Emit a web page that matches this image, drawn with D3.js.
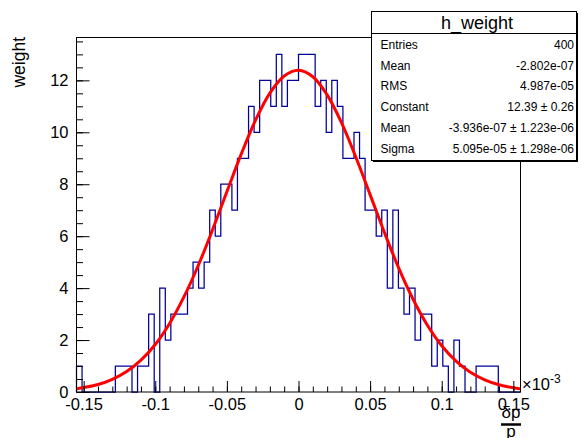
<!DOCTYPE html>
<html><head><meta charset="utf-8">
<script src="https://cdn.jsdelivr.net/npm/d3@7"></script>
<style>
body{margin:0;background:#fff}
svg{display:block}
text{font-family:"Liberation Sans",Arial,Helvetica,sans-serif;fill:#000}
</style>
</head><body>
<svg id="chart" width="581" height="438"></svg>
<script>
// ---- data ----
const histRange = [-0.155, 0.155];          // x axis range (×10^-3)
const binCounts = [
  1,0,0,0,0,0,0,1,1,1, 0,1,1,3,0,4,2,3,3,3,
  4,5,4,5,7,6,8,8,7,9, 9,11,10,12,12,11,13,11,12,12,
  13,13,13,11,12,10,12,11,9,9, 10,9,7,7,6,7,4,7,4,3,
  4,2,3,3,1,2,1,0,2,1, 0,0,1,1,1,1,0,0,0,0
];
const fitX = [-0.155,-0.15,-0.14,-0.13,-0.12,-0.11,-0.10,-0.09,-0.08,-0.07,-0.06,-0.05,-0.04,-0.03,-0.02,-0.01,
  0,0.01,0.02,0.03,0.04,0.05,0.06,0.07,0.08,0.09,0.10,0.11,0.12,0.13,0.14,0.15,0.155];
const fitY = [0.12,0.17,0.29,0.49,0.79,1.23,1.83,2.64,3.66,4.87,6.25,7.71,9.16,10.47,11.51,12.17,
  12.39,12.14,11.44,10.37,9.05,7.60,6.14,4.77,3.57,2.57,1.78,1.19,0.76,0.47,0.28,0.16,0.12];
const xTicks = [-0.15,-0.1,-0.05,0,0.05,0.1,0.15];
const xTickLabels = ["-0.15","-0.1","-0.05","0","0.05","0.1","0.15"];
const yTicks = [0,2,4,6,8,10,12];
const yMax = 13.65;
const statsTitle = "h_weight";
const statsLabels = ["Entries","Mean","RMS","Constant","Mean","Sigma"];
const statsValues = ["400","-2.802e-07","4.987e-05","12.39 \u00b1 0.26","-3.936e-07 \u00b1 1.223e-06","5.095e-05 \u00b1 1.298e-06"];

// ---- layout ----
const L = 76.5, R = 520.5, T = 37.5, B = 392;
const FS = 16.5;
const svg = d3.select("#chart");
const x = d3.scaleLinear().domain(histRange).range([L, R]);
const y = d3.scaleLinear().domain([0, yMax]).range([B, T]);

// histogram outline
const nb = binCounts.length;
const bw = (histRange[1]-histRange[0]) / nb;
const pts = [[histRange[0], 0]];
binCounts.forEach((c, i) => {
  const x0 = histRange[0] + i*bw;
  pts.push([x0, c], [x0 + bw, c]);
});
pts.push([histRange[1], 0]);
svg.append("path")
  .attr("d", d3.line().x(d => x(d[0])).y(d => y(d[1]))(pts))
  .attr("fill", "none").attr("stroke", "#000099").attr("stroke-width", 1.25);

// fit curve
svg.append("path")
  .attr("d", d3.line().x((d,i) => x(fitX[i])).y(d => y(d)).curve(d3.curveCatmullRom)(fitY))
  .attr("fill", "none").attr("stroke", "#ff0000").attr("stroke-width", 3);

// frame
svg.append("rect").attr("x", L).attr("y", T).attr("width", R-L).attr("height", B-T)
  .attr("fill", "none").attr("stroke", "#000").attr("stroke-width", 1);

// x axis
const gx = svg.append("g").attr("transform", `translate(0,${B})`);
gx.call(d3.axisBottom(x).tickValues(d3.range(-15, 16, 1).map(v => v/100)).tickSize(-5.5).tickFormat(""))
  .call(g => g.select(".domain").remove());
gx.append("g").call(d3.axisBottom(x).tickValues(xTicks).tickSize(-11).tickPadding(6)
    .tickFormat((d,i) => xTickLabels[i]))
  .call(g => g.select(".domain").remove())
  .call(g => g.selectAll("text").attr("font-size", FS).attr("dy", "0.71em").attr("y", 6));
gx.selectAll("line").attr("stroke", "#000");

// y axis
const gy = svg.append("g").attr("transform", `translate(${L},0)`);
gy.call(d3.axisLeft(y).tickValues(d3.range(0, 14, 0.5)).tickSize(-6.5).tickFormat(""))
  .call(g => g.select(".domain").remove());
gy.append("g").call(d3.axisLeft(y).tickValues(yTicks).tickSize(-13).tickPadding(8).tickFormat(d3.format("d")))
  .call(g => g.select(".domain").remove())
  .call(g => g.selectAll("text").attr("font-size", FS));
gy.selectAll("line").attr("stroke", "#000");

// exponent
const ex = svg.append("text").attr("x", 522).attr("y", 390).attr("font-size", FS);
ex.append("tspan").text("\u00d710");
ex.append("tspan").attr("font-size", 12).attr("dy", -7).text("-3");

// axis titles
svg.append("text").attr("transform", "translate(25,37) rotate(-90)")
  .attr("text-anchor", "end").attr("font-size", 17.5).text("weight");
svg.append("text").attr("x", 511).attr("y", 418).attr("text-anchor", "middle").attr("font-size", 17).text("\u03b4p");
svg.append("line").attr("x1", 501).attr("x2", 521).attr("y1", 424.5).attr("y2", 424.5)
  .attr("stroke", "#000").attr("stroke-width", 2.5);
svg.append("text").attr("x", 511).attr("y", 437).attr("text-anchor", "middle").attr("font-size", 17).text("p");

// stats box
const sb = {x: 371.5, y: 11.5, w: 205, h: 149};
svg.append("rect").attr("x", sb.x+1.5).attr("y", sb.y+1.5).attr("width", sb.w).attr("height", sb.h).attr("fill", "#000");
svg.append("rect").attr("x", sb.x).attr("y", sb.y).attr("width", sb.w).attr("height", sb.h)
  .attr("fill", "#fff").attr("stroke", "#000").attr("stroke-width", 1);
svg.append("line").attr("x1", sb.x).attr("x2", sb.x+sb.w).attr("y1", 33.5).attr("y2", 33.5).attr("stroke", "#000");
svg.append("text").attr("x", sb.x + sb.w/2 + 3).attr("y", 29).attr("text-anchor", "middle")
  .attr("font-size", 18).text(statsTitle);
const rowY = d3.scaleLinear().domain([0, statsLabels.length-1]).range([49, 152.5]);
statsLabels.forEach((s, i) => {
  svg.append("text").attr("x", 380.5).attr("y", rowY(i)).attr("font-size", 12).text(s);
  svg.append("text").attr("x", 574).attr("y", rowY(i)).attr("text-anchor", "end").attr("font-size", 12).text(statsValues[i]);
});
</script>
</body></html>
